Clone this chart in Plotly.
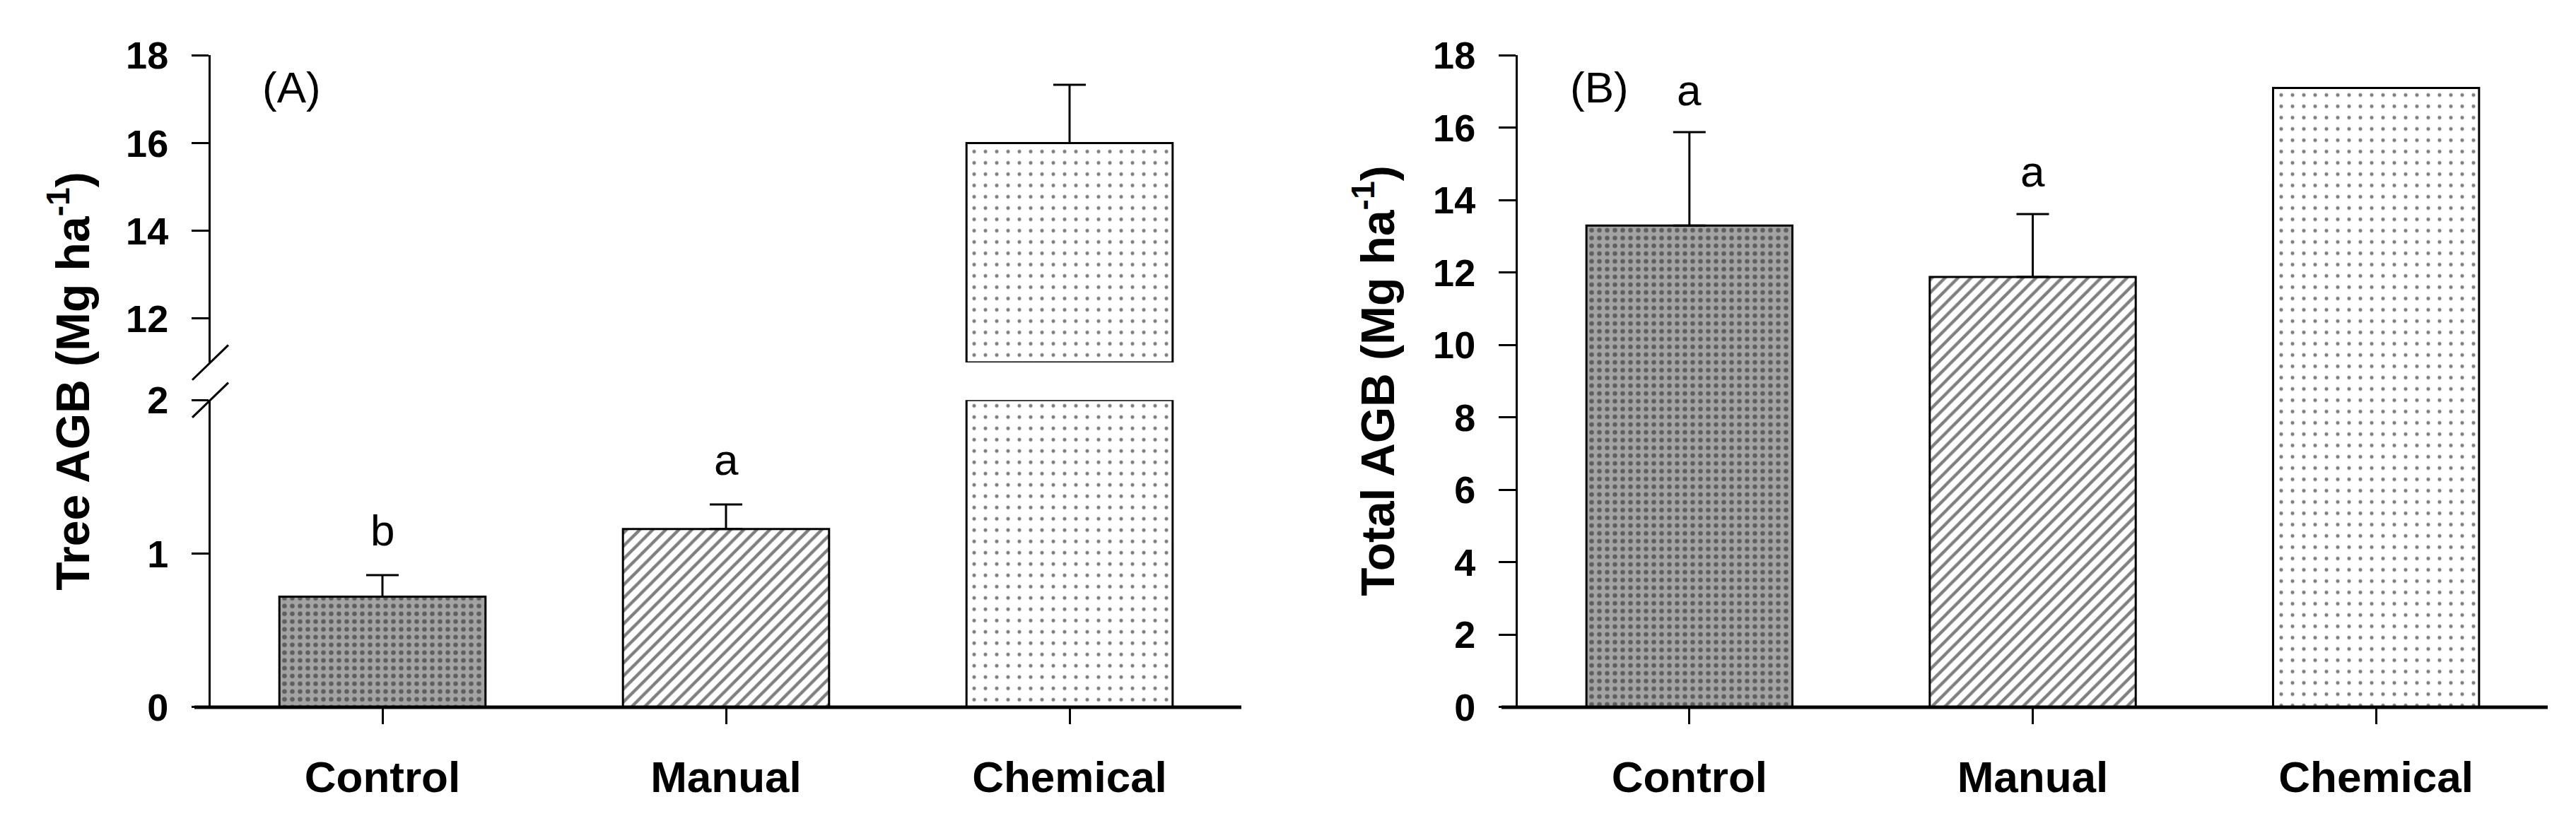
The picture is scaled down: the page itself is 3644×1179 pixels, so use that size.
import plotly.graph_objects as go

# data
categories = ["Control", "Manual", "Chemical"]
tree_agb = [0.72, 1.16, 16.0]
tree_se = [0.14, 0.16, 1.33]
tree_letters = ["b", "a", ""]
total_agb = [13.3, 11.88, 17.1]
total_se = [2.58, 1.74, 0.0]
total_letters = ["a", "a", ""]

# broken y axis for panel A
lower_range = [0, 2]
upper_range = [11, 18]

W, H = 3644, 1179
FONT = "Liberation Sans, Arial, sans-serif"


def fx(p):
    return p / W


def fy(p):
    return 1 - p / H


patterns = [
    dict(shape=".", fgcolor="#1a1a1a", bgcolor="#a3a3a3", size=11, solidity=0.28),
    dict(shape="/", fgcolor="black", bgcolor="white", size=13, solidity=0.33),
    dict(shape=".", fgcolor="black", bgcolor="white", size=16, solidity=0.08),
]

fig = go.Figure()


def add_bars(vals, xa, ya, base=None):
    for i, cat in enumerate(categories):
        v = vals[i]
        if v is None:
            continue
        fig.add_trace(go.Bar(
            x=[cat], y=[v], base=None if base is None else [base],
            width=0.6, xaxis=xa, yaxis=ya, showlegend=False,
            marker=dict(color="white", pattern=patterns[i],
                        line=dict(color="black", width=3)),
        ))


def add_errors(vals, errs, xa, ya):
    keep = [i for i in range(len(categories)) if vals[i] is not None and errs[i] > 0]
    es = [errs[i] for i in keep]
    fig.add_trace(go.Scatter(
        x=[categories[i] for i in keep], y=[vals[i] for i in keep],
        mode="markers", xaxis=xa, yaxis=ya, showlegend=False,
        marker=dict(size=1, color="rgba(0,0,0,0)"),
        error_y=dict(type="data", symmetric=False, array=es, arrayminus=[0] * len(es),
                     color="black", thickness=3, width=23),
    ))


# panel A, lower part (0-2)
lower_vals = [min(v, lower_range[1]) for v in tree_agb]
add_bars(lower_vals, "x", "y")
add_errors([v if v <= lower_range[1] else None for v in tree_agb], tree_se, "x", "y")

# panel A, upper part (11-18)
upper_vals = [v - upper_range[0] if v > upper_range[0] else None for v in tree_agb]
add_bars(upper_vals, "x2", "y2", base=upper_range[0])
add_errors([v if v > upper_range[0] else None for v in tree_agb], tree_se, "x2", "y2")

# panel B
add_bars(total_agb, "x3", "y3")
add_errors(total_agb, total_se, "x3", "y3")

xA = [fx(298), fx(1756)]
xB = [fx(2147), fx(3604)]
yLow = [fy(1023), fy(565)]
yUp = [fy(509), fy(51)]
yB = [fy(1023), fy(51)]

tick_font = dict(family=FONT, size=54, color="black", weight="bold")
cat_font = dict(family=FONT, size=62, color="black", weight="bold")

xcommon = dict(type="category", categoryorder="array", categoryarray=categories,
               range=[-0.5, 2.5], showgrid=False, zeroline=False, showline=False,
               ticks="outside", ticklen=23, tickwidth=3, tickcolor="black",
               tickfont=cat_font, ticklabelstandoff=22)
ycommon = dict(showgrid=False, zeroline=False, showline=True, linecolor="black",
               linewidth=3, ticks="outside", ticklen=24, tickwidth=3,
               tickcolor="black", tickfont=tick_font, ticklabelstandoff=22)

fig.update_layout(
    width=W, height=H, margin=dict(l=0, r=0, t=0, b=0),
    plot_bgcolor="white", paper_bgcolor="white", bargap=0.4,
    xaxis=dict(domain=xA, anchor="y", **xcommon),
    yaxis=dict(domain=yLow, anchor="x", range=lower_range, tickvals=[0, 1, 2], **ycommon),
    xaxis2=dict(domain=xA, anchor="y2", matches="x", visible=False,
                type="category", categoryorder="array", categoryarray=categories),
    yaxis2=dict(domain=yUp, anchor="x2", range=upper_range, tickvals=[12, 14, 16, 18], **ycommon),
    xaxis3=dict(domain=xB, anchor="y3", **xcommon),
    yaxis3=dict(domain=yB, anchor="x3", range=[0, 18], tickvals=list(range(0, 19, 2)), **ycommon),
)

# x axis lines, running a little past the y axis like the original
for xr, yr in [("x domain", "y domain"), ("x3 domain", "y3 domain")]:
    fig.add_shape(type="line", xref=xr, yref=yr, x0=-23 / 1458, x1=1, y0=0, y1=0,
                  line=dict(color="black", width=5))

# axis break marks
for yr, yc in [("y domain", 1), ("y2 domain", 0)]:
    fig.add_shape(type="line", xref="x domain", yref=yr,
                  x0=-26 / 1458, x1=25 / 1458, y0=yc - 26 / 458, y1=yc + 26 / 458,
                  line=dict(color="black", width=3))

# significance letters
letter_font = dict(family=FONT, size=62, color="black")
for i, cat in enumerate(categories):
    if tree_letters[i]:
        fig.add_annotation(x=cat, y=tree_agb[i] + tree_se[i], xref="x", yref="y",
                           text=tree_letters[i], showarrow=False, xanchor="center",
                           yanchor="middle", yshift=64, font=letter_font)
    if total_letters[i]:
        fig.add_annotation(x=cat, y=total_agb[i] + total_se[i], xref="x3", yref="y3",
                           text=total_letters[i], showarrow=False, xanchor="center",
                           yanchor="middle", yshift=60, font=letter_font)

# panel tags
for tag, px in [("(A)", 412), ("(B)", 2262)]:
    fig.add_annotation(x=fx(px), y=fy(98), xref="paper", yref="paper", text=tag,
                       showarrow=False, xanchor="center", yanchor="middle", font=letter_font)

# y axis titles
title_font = dict(family=FONT, size=66, color="black")
for title, px in [("Tree AGB (Mg ha<sup>-1</sup>)", 98), ("Total AGB (Mg ha<sup>-1</sup>)", 1944)]:
    fig.add_annotation(x=fx(px), y=fy(537), xref="paper", yref="paper", textangle=-90,
                       text="<b>" + title + "</b>", showarrow=False,
                       xanchor="center", yanchor="middle", font=title_font)

# drop the default page margin so the figure sits flush with the window
fig.write_html("out.html", config={"displayModeBar": False},
               post_script="document.body.style.margin='0';document.body.style.overflow='hidden';")
